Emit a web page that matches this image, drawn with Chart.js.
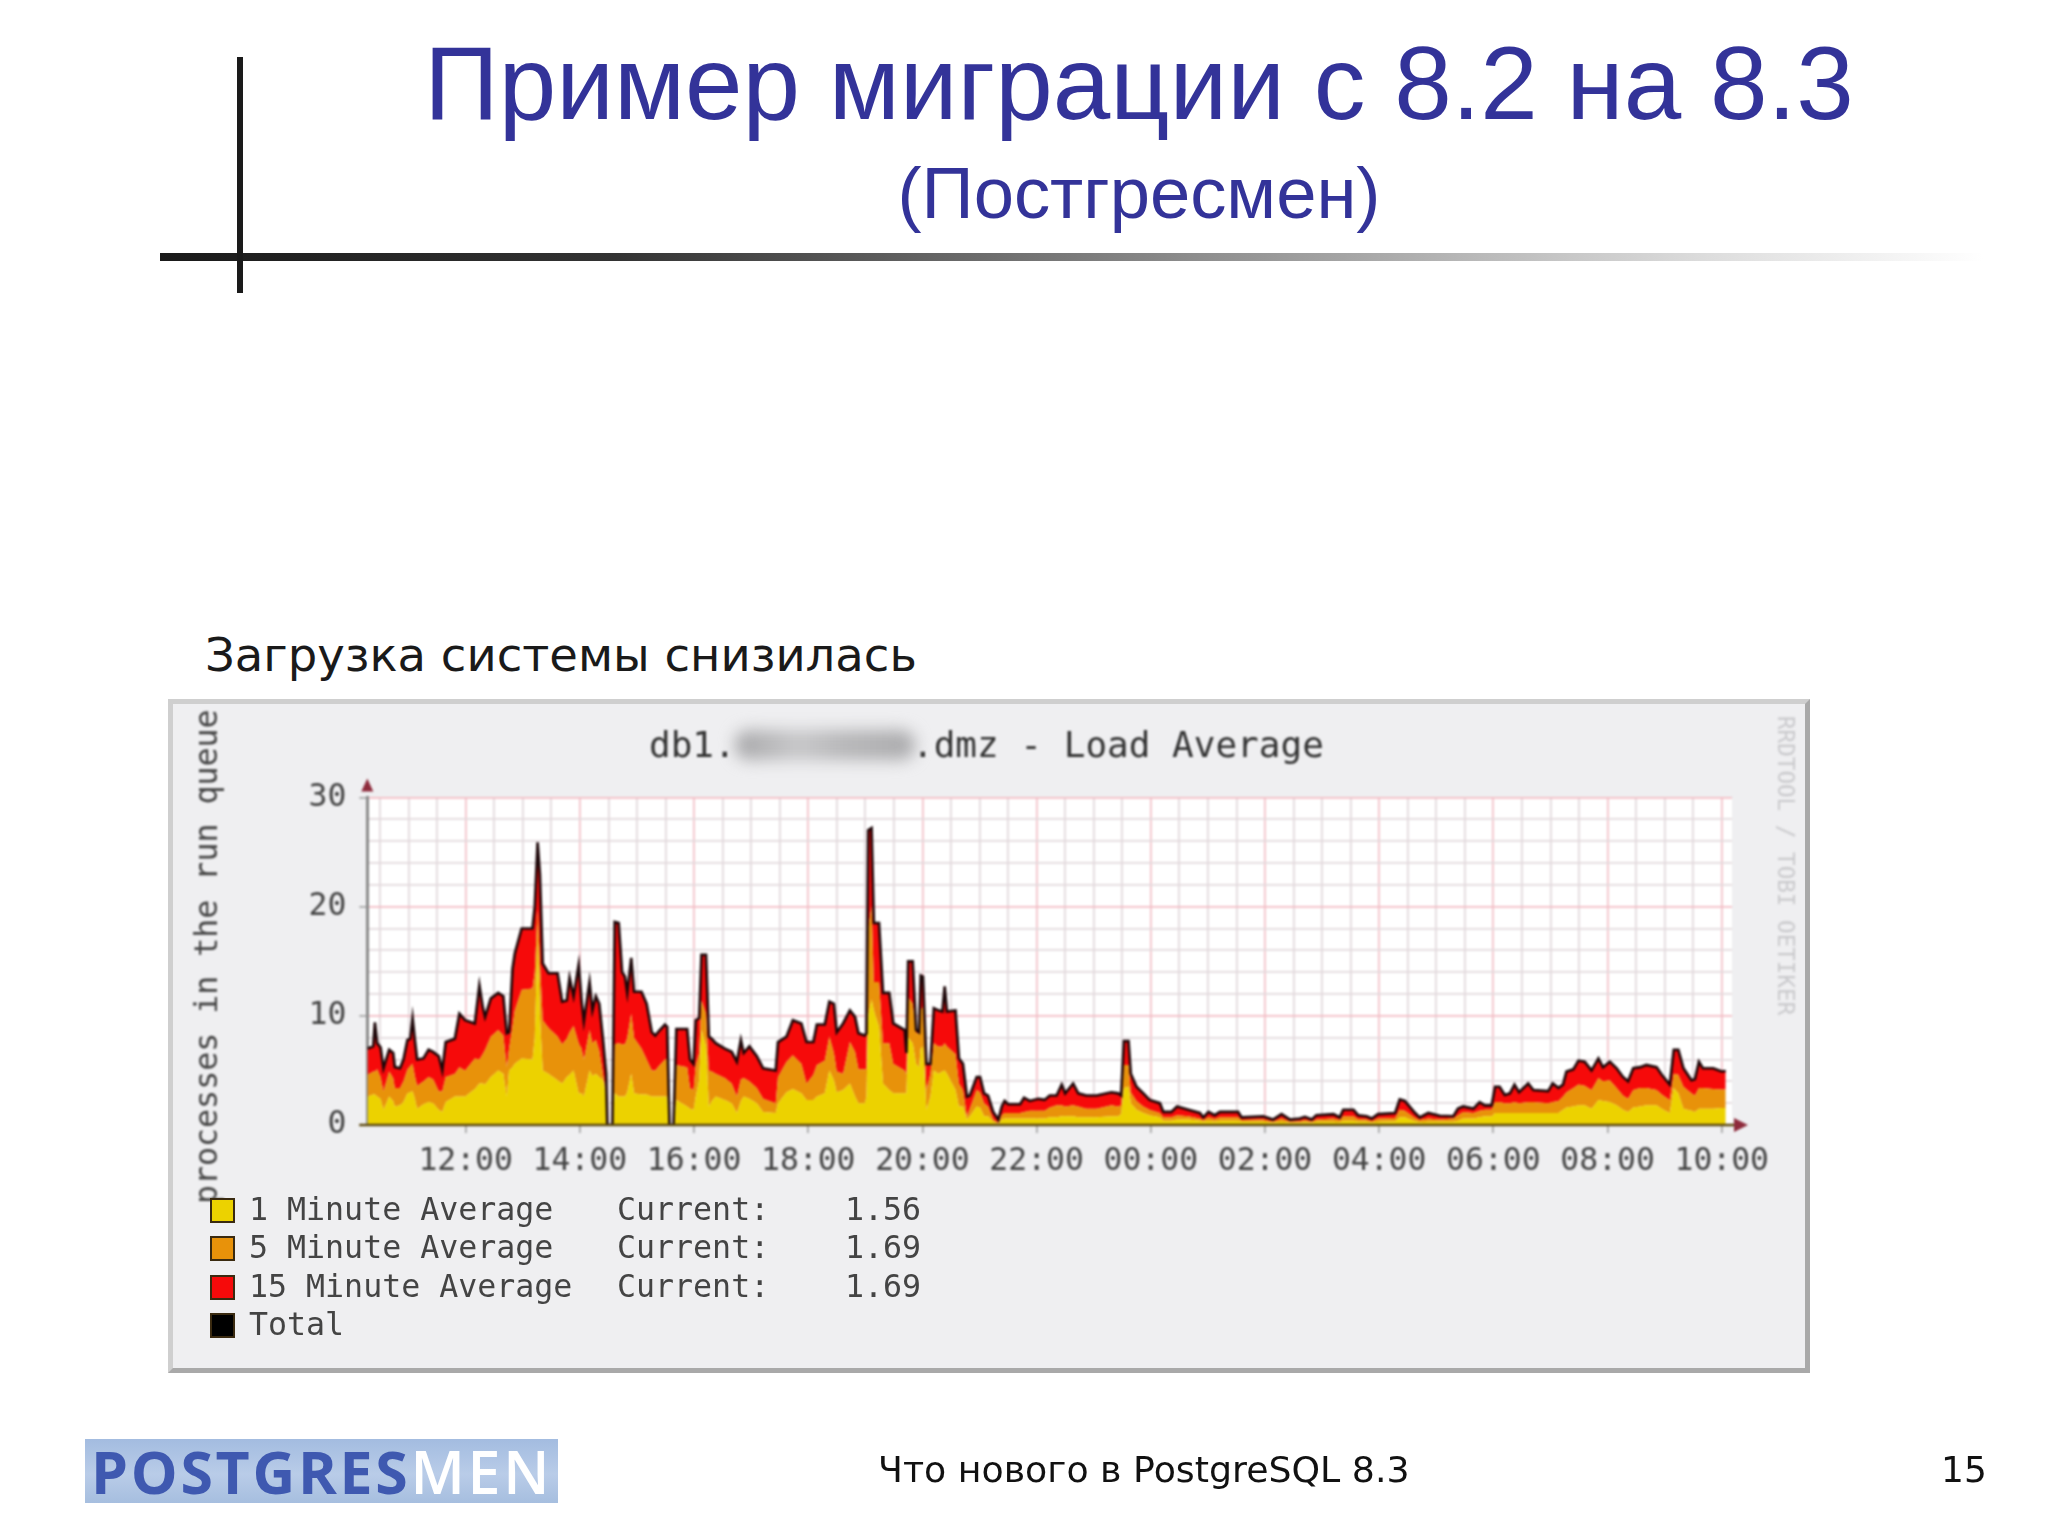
<!DOCTYPE html>
<html lang="ru">
<head>
<meta charset="utf-8">
<title>Пример миграции с 8.2 на 8.3</title>
<script src="https://cdn.jsdelivr.net/npm/chart.js@4"></script>
<style>
  html, body { margin: 0; background: #fff; }
  body { width: 2048px; height: 1535px; position: relative; overflow: hidden; font-family: "DejaVu Sans", sans-serif; color: #111; }
  .abs { position: absolute; white-space: pre; line-height: 1; }
  #title { left: 0; width: 2278px; text-align: center; top: 24px; font: 103.4px "Liberation Sans", sans-serif; color: #333399; }
  #subtitle { left: 0; width: 2278px; text-align: center; top: 151px; font: 72.4px "Liberation Sans", sans-serif; color: #333399; }
  #ruleH { left: 160px; top: 253px; width: 1823px; height: 8px; background: linear-gradient(to right, #1a1a1a 0%, #333 25%, #888 55%, #ddd 85%, #fff 100%); }
  #ruleV { left: 237px; top: 57px; width: 6px; height: 236px; background: #1a1a1a; }
  #caption { left: 205px; top: 632px; font-size: 46.5px; color: #1a1a1a; }
  #panel { left: 168px; top: 699px; width: 1642px; height: 674px; box-sizing: border-box; background: #efeff1; border: 5px solid #cfcfcf; border-right-color: #a9a9a9; border-bottom-color: #a9a9a9; }
  #chart { position: absolute; left: 0; top: 0; filter: blur(1px); }
  #smudge { left: 735px; top: 730px; width: 180px; height: 30px; border-radius: 14px; background: linear-gradient(to right, #a6a6a8, #c6c6c8 35%, #b6b6b8 60%, #aaaaac); filter: blur(8px); }
  #legend { left: 0; top: 0; filter: blur(0.7px); }
  .swatch { position: absolute; left: 210px; width: 21px; height: 21px; border: 2px solid #3a2a10; }
  .lg { position: absolute; font: 31.6px "DejaVu Sans Mono", monospace; color: #444; line-height: 1; white-space: pre; }
  #logo { left: 85px; top: 1439px; width: 473px; height: 64px; background: linear-gradient(to bottom, #a3bce0, #b9cce8 55%, #a6bedf); overflow: hidden; filter: blur(0.5px); }
  #logo span { position: absolute; left: 6px; top: 2px; font: 700 59px/60px "Open Sans", sans-serif; letter-spacing: 2.7px; color: #3f59b0; white-space: pre; }
  #logo b { font-weight: 600; color: #fff; }
  #footer { left: 878px; top: 1452px; font-size: 36.3px; }
  #pageNo { left: 1941px; top: 1452px; font-size: 36px; }
</style>
</head>
<body>
<div class="abs" id="title">Пример миграции с 8.2 на 8.3</div>
<div class="abs" id="subtitle">(Постгресмен)</div>
<div class="abs" id="ruleH"></div>
<div class="abs" id="ruleV"></div>
<div class="abs" id="caption">Загрузка системы снизилась</div>
<div class="abs" id="panel"></div>
<canvas id="chart" width="2048" height="1535"></canvas>
<div class="abs" id="smudge"></div>
<div class="abs" id="legend"></div>
<div class="abs" id="logo"><span>POSTGRES<b>MEN</b></span></div>
<div class="abs" id="footer">Что нового в PostgreSQL 8.3</div>
<div class="abs" id="pageNo">15</div>
<script>
// hours since midnight of the first day, 10:17 .. 10:04 next morning
const times = [
  10.28,10.38,10.41,10.45,10.51,10.56,10.66,10.73,10.76,10.85,
  10.91,10.98,11.03,11.07,11.11,11.15,11.26,11.35,11.43,11.53,
  11.59,11.65,11.81,11.89,11.99,12.16,12.24,12.30,12.34,12.44,
  12.57,12.66,12.72,12.76,12.82,12.86,12.98,13.17,13.21,13.26,
  13.30,13.35,13.45,13.61,13.69,13.77,13.82,13.89,13.98,14.03,
  14.07,14.17,14.22,14.28,14.34,14.41,14.46,14.48,14.57,14.61,
  14.68,14.74,14.79,14.83,14.90,14.95,15.08,15.17,15.26,15.32,
  15.40,15.49,15.53,15.57,15.64,15.69,15.88,15.93,15.99,16.03,
  16.09,16.13,16.21,16.26,16.31,16.38,16.54,16.66,16.75,16.82,
  16.87,16.97,17.10,17.21,17.43,17.47,17.62,17.73,17.88,17.97,
  18.09,18.15,18.29,18.37,18.45,18.50,18.61,18.73,18.82,18.88,
  18.99,19.02,19.05,19.11,19.15,19.24,19.31,19.42,19.49,19.69,
  19.72,19.75,19.83,19.89,19.94,19.97,20.01,20.07,20.14,20.20,
  20.28,20.35,20.39,20.43,20.58,20.64,20.71,20.78,20.83,20.95,
  21.01,21.08,21.15,21.24,21.33,21.39,21.44,21.50,21.71,21.78,
  21.88,22.03,22.14,22.23,22.35,22.44,22.50,22.64,22.73,22.87,
  23.05,23.31,23.43,23.48,23.53,23.61,23.65,23.75,23.87,23.98,
  24.16,24.22,24.36,24.46,24.66,24.86,24.92,25.01,25.12,25.21,
  25.53,25.59,25.97,26.14,26.29,26.44,26.61,26.70,26.82,26.90,
  27.20,27.31,27.37,27.55,27.63,27.78,27.87,27.98,28.28,28.36,
  28.45,28.63,28.71,28.86,29.06,29.30,29.38,29.47,29.65,29.76,
  29.85,29.97,30.03,30.11,30.20,30.29,30.37,30.45,30.61,30.70,
  30.96,31.04,31.14,31.22,31.28,31.40,31.49,31.60,31.72,31.84,
  31.92,32.04,32.16,32.27,32.36,32.45,32.57,32.68,32.86,32.95,
  33.09,33.16,33.24,33.33,33.47,33.53,33.60,33.67,33.85,34.00,
  34.07
];
// top edge of the yellow layer
const top1min = [
  2.6,2.8,2.8,2.6,2.4,1.4,2.6,2.2,1.7,1.8,
  2.1,2.9,3.0,3.1,2.4,1.5,1.9,2.1,2.0,1.4,
  1.2,2.1,2.6,2.6,2.6,3.3,3.8,3.8,3.7,4.4,
  5.0,4.7,2.6,5.0,5.3,5.6,6.1,6.0,8.0,17.0,
  10.0,5.0,4.7,4.1,3.8,4.4,4.6,5.0,2.9,2.9,
  2.6,5.0,4.5,4.7,4.4,4.1,2.8,0,0,2.9,
  2.6,2.6,2.6,3.0,4.7,2.9,2.8,2.8,2.6,2.6,
  2.6,2.6,2.6,0,0,2.3,1.7,1.5,1.4,2.6,
  4.1,8.7,7.2,1.7,2.2,2.6,2.3,2.0,1.1,2.2,
  2.6,2.4,2.0,1.2,1.1,2.0,3.0,3.3,2.9,2.3,
  2.3,2.6,2.9,5.0,4.1,3.0,3.2,3.8,2.6,2.0,
  2.0,2.6,10.0,11.5,10.5,9.0,3.8,3.2,2.9,2.9,
  2.9,8.0,7.5,5.6,5.3,7.0,7.2,1.4,2.6,5.0,
  4.7,4.9,5.0,4.7,3.2,1.7,1.7,0.5,0.8,1.7,
  1.6,0.8,0.8,0.3,0.1,0.5,0.6,0.6,0.6,0.6,
  0.6,0.6,0.6,0.7,0.7,0.8,0.8,0.8,0.7,0.7,
  0.7,0.8,0.8,1.0,3.4,3.5,2.0,1.4,1.1,0.9,
  0.7,0.4,0.4,0.5,0.5,0.4,0.3,0.4,0.3,0.4,
  0.4,0.3,0.3,0.2,0.3,0.2,0.2,0.25,0.2,0.3,
  0.3,0.25,0.4,0.4,0.3,0.3,0.2,0.3,0.35,0.7,
  0.7,0.35,0.25,0.3,0.3,0.3,0.4,0.6,0.6,0.7,
  0.8,0.8,1.1,1.1,1.1,1.1,1.1,1.1,1.1,1.1,
  1.1,1.1,1.1,1.4,1.6,1.7,1.8,1.8,1.5,2.3,
  2.2,2.1,1.8,1.4,1.2,1.6,1.7,1.8,1.8,1.5,
  1.1,3.4,2.9,1.5,1.3,1.2,1.5,1.5,1.5,1.55,
  1.56
];
// top edge of the orange layer
const top5min = [
  4.6,4.9,4.9,5.1,4.4,3.1,4.9,4.3,3.4,3.4,
  4.0,5.1,5.4,5.6,4.5,3.6,4.0,4.4,4.2,3.1,
  3.1,4.4,4.7,5.3,5.0,6.1,6.0,6.5,6.9,8.1,
  8.7,8.2,5.3,7.0,9.0,10.5,12.4,12.5,14.0,19.7,
  15.0,9.6,8.9,8.1,7.4,7.9,8.5,9.1,7.5,7.0,
  6.0,8.7,7.5,7.8,6.8,4.5,3.0,0,0,7.4,
  7.5,7.4,7.4,8.0,10.2,8.0,7.0,6.0,5.0,5.0,
  5.5,6.0,6.0,0,0,5.5,5.3,3.4,3.2,5.5,
  6.6,11.4,10.2,5.0,4.9,4.7,4.3,3.8,2.6,4.2,
  4.3,4.0,3.4,2.4,2.0,4.4,5.8,6.4,5.6,3.8,
  4.6,5.5,5.9,8.1,6.6,4.9,4.7,7.6,6.7,5.1,
  5.1,5.1,18.0,20.0,13.1,13.1,7.5,7.5,5.6,5.0,
  4.6,11.7,11.1,8.4,8.4,10.5,10.8,3.2,4.7,7.5,
  7.2,7.2,7.5,7.2,6.5,3.8,3.2,0.8,1.5,3.2,
  3.0,2.0,1.7,0.5,0.2,0.9,1.1,1.1,1.1,1.2,
  1.3,1.3,1.3,1.6,1.8,1.8,1.7,1.8,1.7,1.5,
  1.5,1.8,1.7,1.8,5.5,5.5,3.0,2.2,1.7,1.4,
  1.1,0.7,0.7,0.9,0.8,0.6,0.45,0.7,0.55,0.7,
  0.7,0.45,0.5,0.3,0.6,0.3,0.35,0.45,0.3,0.5,
  0.6,0.45,0.8,0.8,0.55,0.5,0.35,0.6,0.65,1.4,
  1.3,0.65,0.45,0.6,0.5,0.6,0.9,1.2,1.1,1.3,
  1.4,1.4,2.1,2.1,2.0,2.0,2.1,2.0,2.1,2.1,
  2.0,2.1,2.2,2.6,3.0,3.4,3.7,3.6,3.2,4.3,
  4.0,4.1,3.4,2.7,2.4,3.2,3.4,3.4,3.2,2.8,
  2.3,4.7,4.6,3.5,2.9,2.7,3.4,3.4,3.3,3.25,
  3.25
];
// black outline, also the top of the red layer
const totalLoad = [
  7.0,7.2,9.4,7.5,7.1,5.2,6.9,6.6,5.3,5.2,
  6.0,7.8,7.9,9.8,7.8,6.0,6.1,6.9,6.7,6.3,
  5.0,7.6,7.9,10.2,9.6,9.3,12.8,10.8,9.9,11.6,
  12.1,11.8,8.4,8.5,14.3,15.7,18.0,18.0,20.0,25.9,
  23.0,14.8,13.9,13.9,11.3,11.4,13.5,11.8,14.7,11.4,
  9.5,13.1,10.5,11.8,11.1,7.6,4.7,0,0,18.6,
  18.5,14.0,13.6,12.1,15.3,12.2,12.2,11.1,8.5,8.2,
  8.7,9.2,9.0,0,0,8.8,8.8,6.0,5.6,9.6,
  9.8,15.6,15.6,8.1,7.9,7.5,7.0,6.7,5.8,7.8,
  6.6,7.2,6.3,5.2,5.0,7.6,8.1,9.6,9.3,7.6,
  7.6,9.2,9.2,11.3,11.1,8.5,9.3,10.5,9.9,8.4,
  8.2,8.4,27.0,27.2,18.5,18.5,12.1,12.1,9.3,8.7,
  6.6,15.0,15.0,8.7,8.5,13.7,13.6,5.6,5.6,10.7,
  10.5,10.4,12.7,10.4,10.5,6.1,5.6,2.6,2.7,4.4,
  4.4,2.9,2.7,1.2,0.5,1.7,2.2,1.9,1.9,2.5,
  2.2,2.4,2.3,2.7,2.7,3.7,2.9,3.8,2.9,2.7,
  2.7,3.0,2.9,2.7,7.7,7.7,4.7,3.5,2.9,2.3,
  2.0,1.2,1.2,1.7,1.4,1.1,0.7,1.2,0.9,1.2,
  1.2,0.7,0.8,0.5,1.0,0.5,0.6,0.75,0.5,0.9,
  1.0,0.7,1.4,1.4,0.9,0.8,0.6,1.0,1.1,2.35,
  2.2,1.1,0.7,1.1,0.85,0.8,1.5,1.7,1.5,2.1,
  1.8,1.8,3.5,3.5,2.75,2.9,3.7,3.0,3.8,3.2,
  3.1,3.8,3.4,3.7,4.9,5.1,5.9,5.8,5.0,6.1,
  5.3,5.8,5.2,4.4,4.0,5.2,5.3,5.5,5.3,4.6,
  3.7,6.9,6.9,5.2,4.1,4.2,5.8,5.2,5.2,4.9,
  4.94
];
const xMajorHours = [12,14,16,18,20,22,24,26,28,30,32,34];
const xTickLabels = ['12:00','14:00','16:00','18:00','20:00','22:00','00:00','02:00','04:00','06:00','08:00','10:00'];
const yTickLabels = {0:'0', 10:'10', 20:'20', 30:'30'};
const legendLabels = ['1 Minute Average','5 Minute Average','15 Minute Average','Total'];
const legendCurrent = ['1.56','1.69','1.69',null];
const legendColors = ['#ecd200','#e8920a','#f60a0a','#000000'];

const MONO = '"DejaVu Sans Mono", monospace';
const pts = arr => times.map((t, i) => ({x: t, y: arr[i]}));

// plot background, arrows, blurred-out host name and the text around the graph
const rrdDecor = {
  id: 'rrdDecor',
  beforeDraw(chart){
    const a = chart.chartArea, c = chart.ctx;
    c.save();
    c.fillStyle = '#fff';
    c.fillRect(a.left, a.top, a.right - a.left, a.bottom - a.top);
    c.restore();
  },
  afterDatasetsDraw(chart){
    const a = chart.chartArea, c = chart.ctx;
    c.save();
    c.strokeStyle = '#5e4a10';
    c.lineWidth = 2.5;
    c.beginPath(); c.moveTo(a.left - 8, a.bottom); c.lineTo(a.right + 6, a.bottom); c.stroke();
    c.fillStyle = '#8e2b3c';
    c.beginPath(); c.moveTo(a.right + 16, a.bottom); c.lineTo(a.right + 2, a.bottom - 7); c.lineTo(a.right + 2, a.bottom + 7); c.fill();
    c.beginPath(); c.moveTo(a.left, a.top - 19); c.lineTo(a.left - 6, a.top - 6); c.lineTo(a.left + 6, a.top - 6); c.fill();
    // texts
    c.textBaseline = 'alphabetic';
    c.fillStyle = '#333';
    c.font = '36px ' + MONO;
    c.fillText('db1.', 649, 757);
    c.fillText('.dmz - Load Average', 912, 757);
    c.fillStyle = '#444';
    c.font = '31.6px ' + MONO;
    c.save();
    c.translate(217, 1204);
    c.rotate(-Math.PI / 2);
    c.fillText('processes in the run queue', 0, 0);
    c.restore();
    c.fillStyle = '#c9c9cc';
    c.font = '22.6px ' + MONO;
    c.save();
    c.translate(1778, 716);
    c.rotate(Math.PI / 2);
    c.fillText('RRDTOOL / TOBI OETIKER', 0, 0);
    c.restore();
    c.restore();
  }
};

new Chart(document.getElementById('chart'), {
  type: 'line',
  data: {
    datasets: [
      {label: legendLabels[0], data: pts(top1min), backgroundColor: legendColors[0], borderWidth: 0, fill: 'origin', pointRadius: 0, tension: 0},
      {label: legendLabels[1], data: pts(top5min), backgroundColor: legendColors[1], borderWidth: 0, fill: '-1', pointRadius: 0, tension: 0},
      {label: legendLabels[2], data: pts(totalLoad), backgroundColor: legendColors[2], borderWidth: 0, fill: '-1', pointRadius: 0, tension: 0},
      {label: legendLabels[3], data: pts(totalLoad), borderColor: '#1c0608', borderWidth: 2.6, fill: false, pointRadius: 0, tension: 0, order: -1}
    ]
  },
  options: {
    responsive: false,
    animation: false,
    devicePixelRatio: 1,
    layout: {padding: {left: 0, right: 316, top: 797.5, bottom: 0}},
    plugins: {legend: {display: false}, tooltip: {enabled: false}, title: {display: false}},
    scales: {
      x: {
        type: 'linear',
        min: 10.277,
        max: 34.18,
        afterFit(s){ s.height = 410; },
        afterBuildTicks(s){
          const t = [];
          for(let h = 10.5; h <= 34; h += 0.5) t.push({value: h});
          s.ticks = t;
        },
        border: {display: false},
        grid: {
          color: ctx => xMajorHours.includes(ctx.tick.value) ? '#f3c3ca' : '#e3dadd',
          tickColor: ctx => xMajorHours.includes(ctx.tick.value) ? '#aaa' : 'rgba(0,0,0,0)',
          lineWidth: 1.8,
          tickLength: 8
        },
        ticks: {
          autoSkip: false,
          maxRotation: 0,
          padding: 10,
          color: '#444',
          font: {family: MONO, size: 31.4},
          callback(v){ const i = xMajorHours.indexOf(v); return i >= 0 ? xTickLabels[i] : ''; }
        }
      },
      y: {
        min: 0,
        max: 30,
        afterFit(s){ s.width = 367.3; },
        border: {display: true, color: '#8b8b8b', width: 3},
        grid: {
          color: ctx => ctx.tick.value % 10 === 0 ? '#f3bcc4' : '#e3dadd',
          tickColor: ctx => ctx.tick.value % 10 === 0 ? '#aaa' : 'rgba(0,0,0,0)',
          lineWidth: 1.8,
          tickLength: 8
        },
        ticks: {
          stepSize: 2,
          autoSkip: false,
          padding: 13,
          color: '#444',
          font: {family: MONO, size: 31.4},
          callback(v){ return yTickLabels[v] || ''; }
        }
      }
    }
  },
  plugins: [rrdDecor]
});

// legend block under the graph
const legend = document.getElementById('legend');
const rowY = [1210, 1248, 1287, 1325];
legendLabels.forEach((name, i) => {
  const sw = document.createElement('div');
  sw.className = 'swatch';
  sw.style.top = (rowY[i] - 12) + 'px';
  sw.style.background = legendColors[i];
  legend.appendChild(sw);
  const put = (txt, left) => {
    const el = document.createElement('div');
    el.className = 'lg';
    el.style.left = left + 'px';
    el.style.top = (rowY[i] - 16) + 'px';
    el.textContent = txt;
    legend.appendChild(el);
  };
  put(name, 249);
  if(legendCurrent[i] !== null){
    put('Current:', 617);
    put(legendCurrent[i], 845);
  }
});
</script>
</body>
</html>
